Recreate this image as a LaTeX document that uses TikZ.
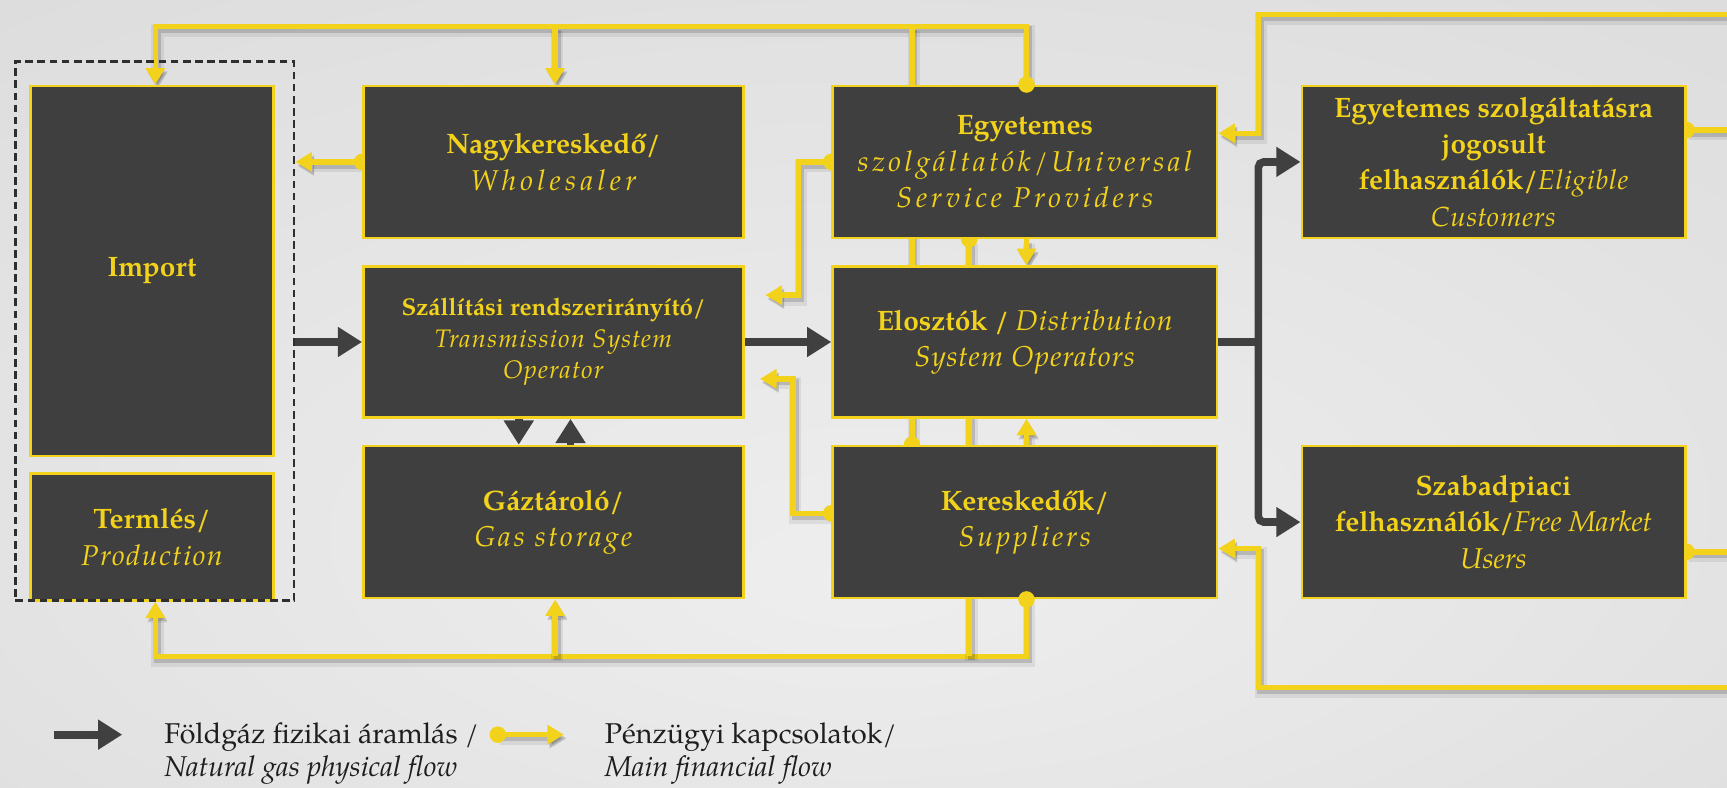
\documentclass[tikz,border=0pt]{standalone}
\usepackage{fontspec}
\setmainfont{texgyrepagella}[Extension=.otf, UprightFont=*-regular, ItalicFont=*-italic, BoldFont=*-bold, BoldItalicFont=*-bolditalic]
\usetikzlibrary{arrows.meta}
\pgfdeclarelayer{bg}
\pgfdeclarelayer{conn}
\pgfsetlayers{bg,conn,main}
\definecolor{ylw}{HTML}{F2D21B}
\definecolor{boxfill}{HTML}{3F3F3F}
\definecolor{physc}{HTML}{404040}
\definecolor{dashc}{HTML}{2E2E2E}
\definecolor{txtc}{HTML}{1E1E1E}
\definecolor{bgin}{HTML}{EEEEEE}
\definecolor{bgout}{HTML}{D2D2D2}
\pgfdeclareradialshading{bgshade}{\pgfpoint{0bp}{-12bp}}{color(0bp)=(bgin); color(20bp)=(bgin!70!bgout); color(62bp)=(bgout)}
\newcommand\bt[1]{{\fontsize{25.5}{33}\selectfont\bfseries #1}}
% italic with size and letter spacing
\newcommand\itl[3]{{\fontsize{#1}{33}\selectfont\itshape\addfontfeature{LetterSpace=#2}#3}}
\tikzset{
  finTip/.tip={Triangle[length=15pt,width=17pt]},
  physTip/.tip={Triangle[length=22pt,width=26pt]},
  ebox/.style={rectangle, draw=ylw, line width=2.5pt, fill=boxfill, text=ylw, align=center, inner sep=0pt, font=\fontsize{24}{33}\selectfont},
  tsobox/.style={ebox, font=\fontsize{21}{28.5}\selectfont},
  fin/.style={draw=ylw, line width=5pt,
    preaction={draw=black, opacity=0.07, line width=11pt, transform canvas={shift={(2pt,-4pt)}}},
    preaction={draw=black, opacity=0.15, line width=6pt, transform canvas={shift={(2pt,-3pt)}}}},
  physl/.style={draw=physc, line width=7pt},
  fdot/.style={fill=ylw},
  grpbox/.style={rectangle, draw=dashc, line width=2.5pt, dashed, dash pattern=on 7pt off 4pt, inner sep=0pt},
  legend/.style={text=txtc, inner sep=0pt, font=\fontsize{26}{30}\selectfont},
}
\begin{document}
\begin{tikzpicture}[x=1pt,y=-1pt]
\useasboundingbox (0,0) rectangle (1568,715);
\begin{pgfonlayer}{bg}
\shade[shading=bgshade] (0,0) rectangle (1568,715);
\end{pgfonlayer}

% boxes
\node[ebox, minimum width=220pt, minimum height=336pt] (imp) at (138,246) {\bt{Import}};
\node[ebox, minimum width=220pt, minimum height=115pt] (prod) at (138,487.5) {\bt{Termlés/}\\\itl{26}{5}{Production}};
\node[grpbox, minimum width=253pt, minimum height=489pt] (grp) at (140.5,300.5) {};
\node[ebox, minimum width=345pt, minimum height=138pt] (whole) at (502.5,147) {\bt{Nagykereskedő/}\\\itl{26}{15}{Wholesaler}};
\node[tsobox, minimum width=345pt, minimum height=137pt] (tso) at (502.5,310.5) {{\fontsize{22}{28.5}\selectfont\bfseries Szállítási rendszerirányító/}\\{\fontsize{23}{28.5}\selectfont\itshape\addfontfeature{LetterSpace=5}Transmission System}\\{\fontsize{23}{28.5}\selectfont\itshape\addfontfeature{LetterSpace=5}Operator}};
\node[ebox, minimum width=345pt, minimum height=138pt] (gas) at (502.5,474) {\bt{Gáztároló/}\\\itl{26}{10}{Gas storage}};
\node[ebox, minimum width=349pt, minimum height=138pt] (usp) at (930.5,147) {\bt{Egyetemes}\\\itl{26}{12}{szolgáltatók/Universal}\\\itl{26}{13}{Service Providers}};
\node[ebox, minimum width=349pt, minimum height=137pt] (dso) at (930.5,310.5) {\bt{Elosztók /} \itl{26}{4}{Distribution}\\\itl{26}{4}{System Operators}};
\node[ebox, minimum width=349pt, minimum height=138pt] (sup) at (930.5,474) {\bt{Kereskedők/}\\\itl{26}{10}{Suppliers}};
\node[ebox, minimum width=348pt, minimum height=138pt] (elig) at (1356,147) {\bt{Egyetemes szolgáltatásra}\\\bt{jogosult}\\\bt{felhasználók/}\itl{25}{3}{Eligible}\\\itl{25}{3}{Customers}};
\node[ebox, minimum width=348pt, minimum height=138pt] (free) at (1356,474) {\bt{Szabadpiaci}\\\bt{felhasználók/}\itl{26}{0}{Free Market}\\\itl{26}{0}{Users}};

% bus coordinates
\coordinate (yTop) at (0,24);
\coordinate (yBot) at (0,596);
\coordinate (yTR) at (0,13);
\coordinate (yBR) at (0,624);
\coordinate (xImp) at (141,0);
\coordinate (xWh) at (504,0);
\coordinate (xL) at (828,0);
\coordinate (xM) at (880,0);
\coordinate (xR) at (932,0);
\coordinate (xRB) at (1142.5,0);
\coordinate (xOut) at (1580,0);
\coordinate (xU) at (725,0);
\coordinate (yU) at (0,268);
\coordinate (xTipU) at (695,0);
\coordinate (ySdot) at (0,466);
\coordinate (xS) at (720,0);
\coordinate (yS) at (0,344);
\coordinate (xTipS) at (690,0);
\coordinate (yEl) at (0,118);
\coordinate (yUr) at (0,121);
\coordinate (yFr) at (0,501);
\coordinate (ySr) at (0,498);
\coordinate (xDn) at (471,0);
\coordinate (xUp) at (518,0);

\begin{pgfonlayer}{conn}
% top financial network
\draw[fin, -{finTip}] (usp.north -| xR) -- (xR |- yTop) -- (xImp |- yTop) -- (imp.north -| xImp);
\draw[fin, -{finTip}] (xWh |- yTop) -- (whole.north -| xWh);
\draw[fin] (xL |- yTop) -- (sup.north -| xL);
\fill[fdot] (sup.north -| xL) circle (7.5pt);
% bottom financial network
\draw[fin, -{finTip}] (sup.south -| xR) -- (xR |- yBot) -- (xImp |- yBot) -- (grp.south -| xImp);
\draw[fin, -{finTip}] (xWh |- yBot) -- (gas.south -| xWh);
\draw[fin] (usp.south -| xM) -- (xM |- yBot);
\fill[fdot] (usp.south -| xM) circle (7.5pt);
% usp / sup to dso
\draw[fin, -{finTip}] (usp.south -| xR) -- (dso.north -| xR);
\draw[fin, -{finTip}] (sup.north -| xR) -- (dso.south -| xR);
% wholesaler to import group
\draw[fin, -{finTip}] (whole.west) -- (grp.east |- whole.west);
\fill[fdot] (whole.west) circle (7.5pt);
% usp to tso
\draw[fin, -{finTip}] (usp.west) -- (xU |- usp.west) -- (xU |- yU) -- (xTipU |- yU);
\fill[fdot] (usp.west) circle (7.5pt);
% sup to tso
\draw[fin, -{finTip}] (sup.west |- ySdot) -- (xS |- ySdot) -- (xS |- yS) -- (xTipS |- yS);
\fill[fdot] (sup.west |- ySdot) circle (7.5pt);
% eligible to usp
\draw[fin, -{finTip}] (elig.east |- yEl) -- (xOut |- yEl) -- (xOut |- yTR) -- (xRB |- yTR) -- (xRB |- yUr) -- (usp.east |- yUr);
\fill[fdot] (elig.east |- yEl) circle (7.5pt);
% free market to suppliers
\draw[fin, -{finTip}] (free.east |- yFr) -- (xOut |- yFr) -- (xOut |- yBR) -- (xRB |- yBR) -- (xRB |- ySr) -- (sup.east |- ySr);
\fill[fdot] (free.east |- yFr) circle (7.5pt);

% physical flows
\draw[physl, -{physTip}] (grp.east |- tso.west) -- (tso.west);
\draw[physl, -{physTip}] (tso.east) -- (dso.west);
\draw[physl, -{physTip}] (tso.south -| xDn) -- (gas.north -| xDn);
\draw[physl, -{physTip}] (gas.north -| xUp) -- (tso.south -| xUp);
\draw[physl] (dso.east) -- (xRB |- dso.east);
\draw[physl, -{physTip}, rounded corners=5pt] (xRB |- dso.east) |- (elig.west);
\draw[physl, -{physTip}, rounded corners=5pt] (xRB |- dso.east) |- (free.west);
\end{pgfonlayer}

% dots on top of boxes
\fill[fdot] (usp.north -| xR) circle (7.5pt);
\fill[fdot] (sup.south -| xR) circle (7.5pt);

% legend
\coordinate (lgP1) at (49,667);
\coordinate (lgP2) at (111,667);
\coordinate (lgF1) at (452,667);
\coordinate (lgF2) at (512,667);
\draw[physl, -{physTip}] (lgP1) -- (lgP2);
\draw[fin, -{finTip}] (lgF1) -- (lgF2);
\fill[fdot] (lgF1) circle (7.5pt);
\node[legend, anchor=base west] (lg1a) at (149,675) {Földgáz fizikai áramlás /};
\node[legend, anchor=base west] (lg1b) at (149,705) {\itshape Natural gas physical flow};
\node[legend, anchor=base west] (lg2a) at (549,675) {Pénzügyi kapcsolatok/};
\node[legend, anchor=base west] (lg2b) at (549,705) {\itshape Main financial flow};
\end{tikzpicture}
\end{document}
